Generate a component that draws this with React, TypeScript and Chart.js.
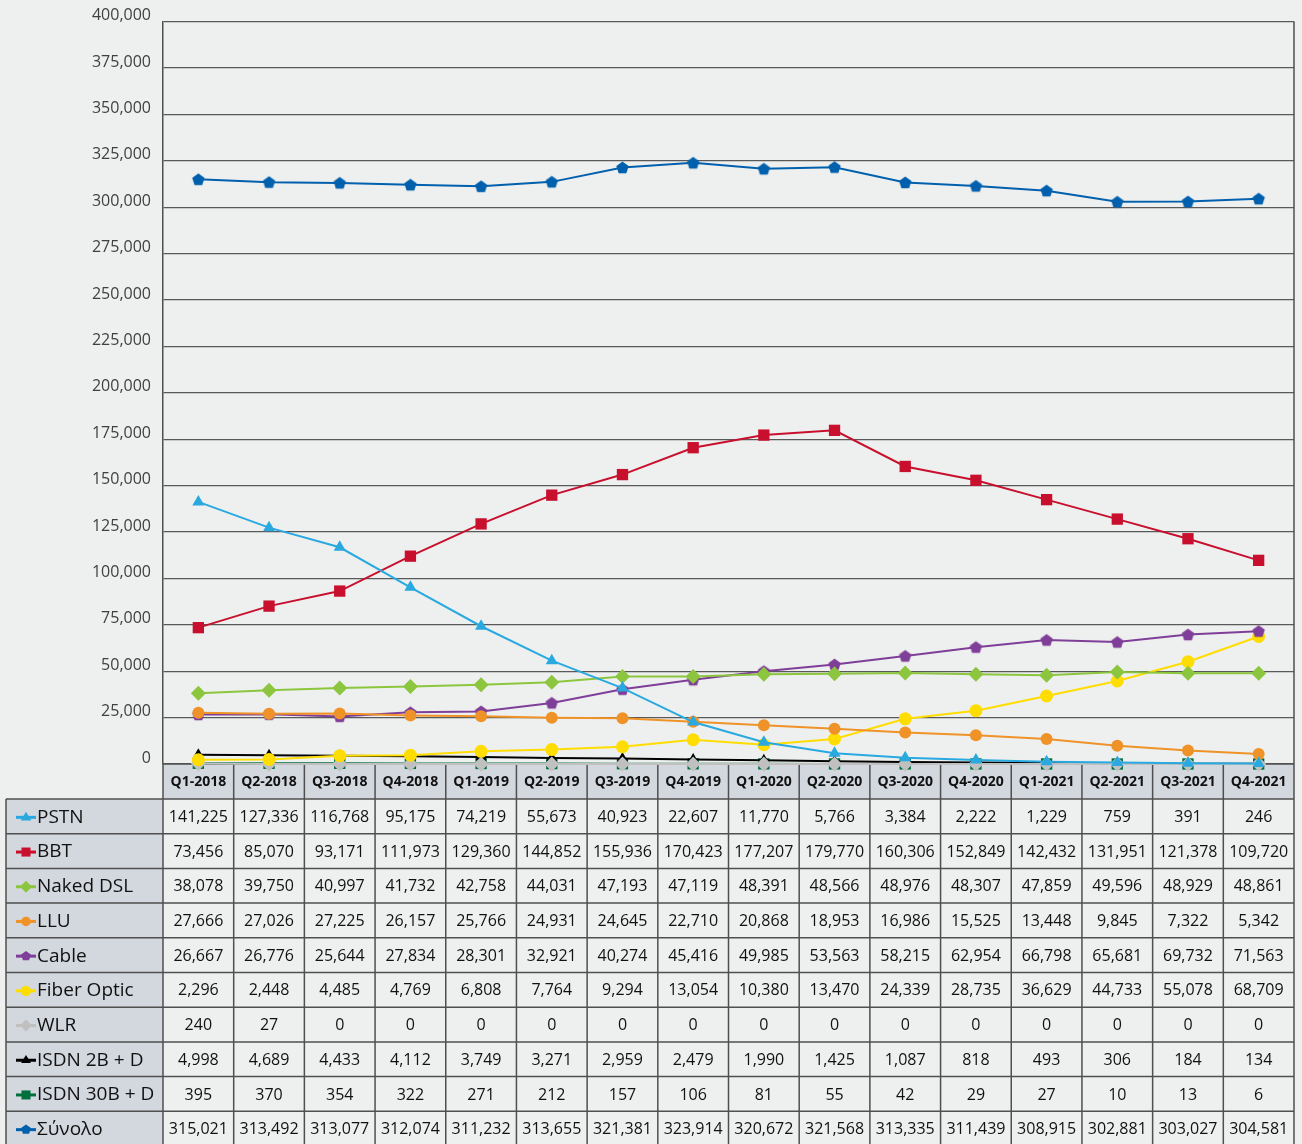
import React, { useEffect, useRef } from "react";
import { Chart, registerables } from "chart.js";

Chart.register(...registerables);

const categories = [
  "Q1-2018", "Q2-2018", "Q3-2018", "Q4-2018",
  "Q1-2019", "Q2-2019", "Q3-2019", "Q4-2019",
  "Q1-2020", "Q2-2020", "Q3-2020", "Q4-2020",
  "Q1-2021", "Q2-2021", "Q3-2021", "Q4-2021",
];

const pstn = [141225, 127336, 116768, 95175, 74219, 55673, 40923, 22607, 11770, 5766, 3384, 2222, 1229, 759, 391, 246];
const bbt = [73456, 85070, 93171, 111973, 129360, 144852, 155936, 170423, 177207, 179770, 160306, 152849, 142432, 131951, 121378, 109720];
const nakedDsl = [38078, 39750, 40997, 41732, 42758, 44031, 47193, 47119, 48391, 48566, 48976, 48307, 47859, 49596, 48929, 48861];
const llu = [27666, 27026, 27225, 26157, 25766, 24931, 24645, 22710, 20868, 18953, 16986, 15525, 13448, 9845, 7322, 5342];
const cable = [26667, 26776, 25644, 27834, 28301, 32921, 40274, 45416, 49985, 53563, 58215, 62954, 66798, 65681, 69732, 71563];
const fiberOptic = [2296, 2448, 4485, 4769, 6808, 7764, 9294, 13054, 10380, 13470, 24339, 28735, 36629, 44733, 55078, 68709];
const wlr = [240, 27, 0, 0, 0, 0, 0, 0, 0, 0, 0, 0, 0, 0, 0, 0];
const isdn2b = [4998, 4689, 4433, 4112, 3749, 3271, 2959, 2479, 1990, 1425, 1087, 818, 493, 306, 184, 134];
const isdn30b = [395, 370, 354, 322, 271, 212, 157, 106, 81, 55, 42, 29, 27, 10, 13, 6];
const total = [315021, 313492, 313077, 312074, 311232, 313655, 321381, 323914, 320672, 321568, 313335, 311439, 308915, 302881, 303027, 304581];

const yTicksMin = 0;
const yTicksMax = 400000;
const yTicksStep = 25000;

type Series = { label: string; data: number[]; color: string; style: string; r: number };

const seriesList: Series[] = [
  { label: "PSTN", data: pstn, color: "#29a9e0", style: "triangle", r: 7 },
  { label: "BBT", data: bbt, color: "#c8102e", style: "rect", r: 8 },
  { label: "Naked DSL", data: nakedDsl, color: "#8cc63e", style: "rectRot", r: 7.5 },
  { label: "LLU", data: llu, color: "#ef9228", style: "circle", r: 6 },
  { label: "Cable", data: cable, color: "#7f3f98", style: "pentagon", r: 6.5 },
  { label: "Fiber Optic", data: fiberOptic, color: "#ffdd00", style: "circle", r: 6.5 },
  { label: "WLR", data: wlr, color: "#c0c0c0", style: "rectRot", r: 7.5 },
  { label: "ISDN 2B + D", data: isdn2b, color: "#000000", style: "triangle", r: 6.5 },
  { label: "ISDN 30B + D", data: isdn30b, color: "#006f3c", style: "rect", r: 8 },
  { label: "Σύνολο", data: total, color: "#0060ad", style: "pentagon", r: 6.5 },
];

const BG = "#eef0ef";
const HEAD_BG = "#d3d7de";
const BORDER = "#4f4f4f";
const FONT = "'Open Sans', 'DejaVu Sans', sans-serif";

function pentagonPath(ctx: CanvasRenderingContext2D, cx: number, cy: number, r: number) {
  ctx.beginPath();
  for (let i = 0; i < 5; i++) {
    const a = -Math.PI / 2 + (i * 2 * Math.PI) / 5;
    const px = cx + r * Math.cos(a);
    const py = cy + r * Math.sin(a);
    if (i === 0) ctx.moveTo(px, py);
    else ctx.lineTo(px, py);
  }
  ctx.closePath();
}

function makePentagon(color: string, r: number): HTMLCanvasElement {
  const c = document.createElement("canvas");
  const s = Math.ceil(r * 2 + 2);
  c.width = s;
  c.height = s;
  const ctx = c.getContext("2d")!;
  ctx.fillStyle = color;
  pentagonPath(ctx, s / 2, s / 2 + 0.5, r);
  ctx.fill();
  return c;
}

function drawMarker(ctx: CanvasRenderingContext2D, style: string, color: string, x: number, y: number, r: number) {
  ctx.save();
  ctx.fillStyle = color;
  ctx.beginPath();
  if (style === "circle") {
    ctx.arc(x, y, r, 0, Math.PI * 2);
  } else if (style === "rect") {
    const s = r * Math.SQRT1_2;
    ctx.rect(x - s, y - s, 2 * s, 2 * s);
  } else if (style === "rectRot") {
    ctx.moveTo(x, y - r);
    ctx.lineTo(x + r, y);
    ctx.lineTo(x, y + r);
    ctx.lineTo(x - r, y);
    ctx.closePath();
  } else if (style === "triangle") {
    ctx.moveTo(x, y - r);
    ctx.lineTo(x + r * 0.95, y + r * 0.55);
    ctx.lineTo(x - r * 0.95, y + r * 0.55);
    ctx.closePath();
  } else if (style === "pentagon") {
    pentagonPath(ctx, x, y, r);
  }
  ctx.fill();
  ctx.restore();
}

const bgPlugin = {
  id: "bgFill",
  beforeDraw(chart: any) {
    const ctx = chart.ctx;
    ctx.save();
    ctx.fillStyle = BG;
    ctx.fillRect(0, 0, chart.width, chart.height);
    ctx.restore();
  },
};

const tablePlugin = {
  id: "dataTable",
  beforeDatasetsDraw(chart: any) {
    const ctx: CanvasRenderingContext2D = chart.ctx;
    const area = chart.chartArea;
    const xs = chart.scales.x;
    const n = categories.length;
    const colW = (area.right - area.left) / n;
    const headTop = area.bottom;
    const headH = 35;
    const rowTop = headTop + headH;
    const rowH = 34.7;
    const tableLeft = 6;
    ctx.save();

    // header row
    ctx.fillStyle = HEAD_BG;
    ctx.fillRect(area.left, headTop, area.right - area.left, headH);
    // row header column
    ctx.fillRect(tableLeft, rowTop, area.left - tableLeft, rowH * seriesList.length);

    ctx.strokeStyle = BORDER;
    ctx.lineWidth = 1.5;
    // horizontal lines
    ctx.beginPath();
    ctx.moveTo(area.left, headTop);
    ctx.lineTo(area.right, headTop);
    for (let r = 0; r <= seriesList.length; r++) {
      const y = rowTop + r * rowH;
      ctx.moveTo(tableLeft, y);
      ctx.lineTo(area.right, y);
    }
    // vertical lines
    const bottom = rowTop + rowH * seriesList.length;
    ctx.moveTo(tableLeft, rowTop);
    ctx.lineTo(tableLeft, bottom);
    for (let i = 0; i <= n; i++) {
      const x = area.left + i * colW;
      ctx.moveTo(x, headTop);
      ctx.lineTo(x, bottom);
    }
    // right border of plot
    ctx.moveTo(area.right, area.top);
    ctx.lineTo(area.right, headTop);
    ctx.stroke();

    // header labels
    ctx.fillStyle = "#111111";
    ctx.textAlign = "center";
    ctx.textBaseline = "middle";
    ctx.font = `bold 14px ${FONT}`;
    categories.forEach((c, i) => {
      ctx.fillText(c, xs.getPixelForValue(i), headTop + headH / 2 + 1);
    });

    // rows
    seriesList.forEach((s, r) => {
      const cy = rowTop + r * rowH + rowH / 2 + 1;
      // legend key
      ctx.strokeStyle = s.color;
      ctx.lineWidth = 3;
      ctx.beginPath();
      ctx.moveTo(16, cy);
      ctx.lineTo(36, cy);
      ctx.stroke();
      drawMarker(ctx, s.style, s.color, 26, cy, s.r * 0.8);
      ctx.fillStyle = "#111111";
      ctx.textAlign = "left";
      ctx.font = `19px ${FONT}`;
      ctx.fillText(s.label, 37, cy);
      ctx.textAlign = "center";
      ctx.font = `16px ${FONT}`;
      s.data.forEach((v, i) => {
        ctx.fillText(v.toLocaleString("en-US"), xs.getPixelForValue(i), cy);
      });
    });
    ctx.restore();
  },
};

export default function App() {
  const ref = useRef<HTMLCanvasElement | null>(null);

  useEffect(() => {
    document.body.style.margin = "0";
    document.body.style.background = BG;
    const canvas = ref.current!;
    const datasets = seriesList.map((s) => ({
      label: s.label,
      data: s.data,
      borderColor: s.color,
      backgroundColor: s.color,
      borderWidth: 2,
      pointStyle: s.style === "pentagon" ? makePentagon(s.color, s.r) : s.style,
      pointRadius: s.r,
      pointBorderWidth: 0,
      pointBackgroundColor: s.color,
      clip: false as any,
      tension: 0,
    }));

    const chart = new Chart(canvas, {
      type: "line",
      data: { labels: categories, datasets: datasets as any },
      plugins: [bgPlugin, tablePlugin],
      options: {
        animation: false,
        responsive: false,
        maintainAspectRatio: false,
        layout: { padding: { left: 0, right: 6, top: 21, bottom: 380 } },
        plugins: {
          legend: { display: false },
          tooltip: { enabled: false },
        },
        scales: {
          x: {
            type: "category",
            display: false,
            offset: true,
          },
          y: {
            min: yTicksMin,
            max: yTicksMax,
            afterFit: (scale: any) => {
              scale.width = 163;
            },
            border: { display: true, color: BORDER, width: 1.5 },
            grid: { color: "#595959", lineWidth: 1.3, drawTicks: false },
            ticks: {
              stepSize: yTicksStep,
              padding: 12,
              labelOffset: -6,
              color: "#404040",
              font: { family: FONT, size: 16 },
              callback: (v: any) => Number(v).toLocaleString("en-US"),
            },
          },
        },
      },
    });
    return () => chart.destroy();
  }, []);

  return <canvas ref={ref} width={1302} height={1144} style={{ display: "block" }} />;
}
